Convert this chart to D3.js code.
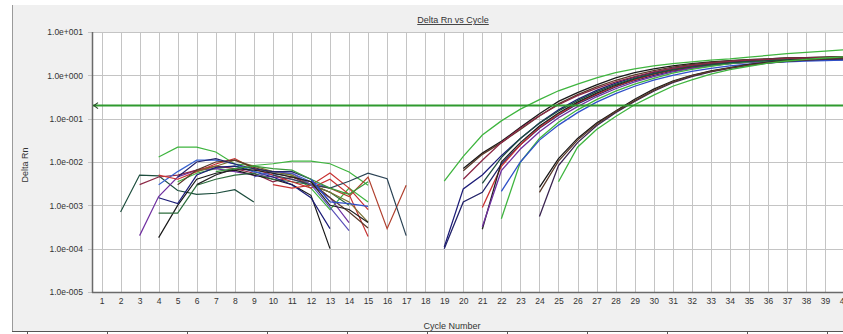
<!DOCTYPE html>
<html>
<head>
<meta charset="utf-8">
<script src="https://cdn.jsdelivr.net/npm/d3@7"></script>
<style>
  body { margin: 0; background: #fff; overflow: hidden; }
  text { font-family: "Liberation Sans", Arial, sans-serif; fill: #333; }
</style>
</head>
<body>
<div id="chart"></div>
<script>
// Data
//

var cycleTicks = [1, 2, 3, 4, 5, 6, 7, 8, 9, 10, 11, 12, 13, 14, 15, 16, 17, 18, 19, 20,
                  21, 22, 23, 24, 25, 26, 27, 28, 29, 30, 31, 32, 33, 34, 35, 36, 37, 38, 39, 40];
var rnTicks = [1e1, 1e0, 1e-1, 1e-2, 1e-3, 1e-4, 1e-5];
var rnTickLabels = ["1.0e+001", "1.0e+000", "1.0e-001", "1.0e-002", "1.0e-003", "1.0e-004", "1.0e-005"];
var threshold = 0.2;

// amplification curves: first cycle plotted, then one Delta Rn per cycle
var ampStart = [19, 20, 20, 19, 19, 21, 21, 21, 22, 22, 21, 20, 24, 24, 24, 25];
var ampValues = [
  [3.6e-3, 1.35e-2, 4.2e-2, 8.9e-2, 0.166, 0.275, 0.44, 0.63, 0.87, 1.15, 1.41, 1.66, 1.86, 2.04, 2.24, 2.4, 2.63, 2.88, 3.16, 3.39, 3.63, 3.89],
  [7.1e-3, 1.6e-2, 3.0e-2, 6.3e-2, 0.13, 0.25, 0.40, 0.60, 0.87, 1.15, 1.41, 1.66, 1.86, 2.04, 2.19, 2.29, 2.40, 2.51, 2.57, 2.63, 2.69],
  [6.3e-3, 1.5e-2, 2.8e-2, 5.6e-2, 0.115, 0.22, 0.36, 0.54, 0.77, 1.02, 1.29, 1.55, 1.78, 1.98, 2.14, 2.29, 2.40, 2.51, 2.57, 2.63, 2.69],
  [1.1e-4, 2.4e-3, 5.0e-3, 1.4e-2, 3.5e-2, 7.9e-2, 0.16, 0.28, 0.45, 0.66, 0.91, 1.17, 1.45, 1.66, 1.86, 2.04, 2.19, 2.29, 2.40, 2.45, 2.51, 2.57],
  [1.0e-4, 1.2e-3, 2.0e-3, 8.9e-3, 2.5e-2, 6.0e-2, 0.12, 0.22, 0.35, 0.54, 0.76, 1.0, 1.26, 1.48, 1.70, 1.86, 2.0, 2.09, 2.19, 2.24, 2.29, 2.29],
  [8.9e-4, 7.9e-3, 2.5e-2, 6.3e-2, 0.126, 0.23, 0.37, 0.56, 0.79, 1.05, 1.32, 1.55, 1.78, 1.95, 2.09, 2.24, 2.34, 2.40, 2.45, 2.51],
  [2.8e-4, 1.0e-2, 2.8e-2, 6.8e-2, 0.135, 0.24, 0.39, 0.59, 0.83, 1.10, 1.35, 1.58, 1.82, 2.0, 2.14, 2.29, 2.40, 2.51, 2.57, 2.63],
  [3.2e-4, 6.3e-3, 2.0e-2, 5.0e-2, 0.105, 0.19, 0.32, 0.49, 0.71, 0.93, 1.20, 1.45, 1.66, 1.86, 2.0, 2.14, 2.24, 2.29, 2.34, 2.40],
  [4.9e-4, 1.0e-2, 3.5e-2, 8.3e-2, 0.16, 0.275, 0.43, 0.63, 0.85, 1.12, 1.38, 1.62, 1.86, 2.04, 2.19, 2.29, 2.40, 2.45, 2.51],
  [2.1e-3, 1.0e-2, 3.2e-2, 7.1e-2, 0.138, 0.24, 0.38, 0.56, 0.78, 1.0, 1.23, 1.45, 1.66, 1.82, 1.95, 2.04, 2.14, 2.19, 2.24],
  [3.2e-3, 1.26e-2, 3.5e-2, 7.9e-2, 0.15, 0.26, 0.42, 0.62, 0.85, 1.10, 1.35, 1.58, 1.78, 1.95, 2.09, 2.19, 2.29, 2.34, 2.40, 2.45],
  [4.0e-3, 1.1e-2, 2.8e-2, 6.0e-2, 0.117, 0.21, 0.34, 0.50, 0.71, 0.93, 1.20, 1.45, 1.70, 1.91, 2.09, 2.24, 2.34, 2.45, 2.51, 2.57, 2.63],
  [2.6e-3, 1.2e-2, 3.5e-2, 7.9e-2, 0.15, 0.28, 0.48, 0.74, 1.0, 1.26, 1.51, 1.78, 2.0, 2.19, 2.34, 2.45, 2.57],
  [5.5e-4, 8.3e-3, 2.8e-2, 6.9e-2, 0.138, 0.25, 0.43, 0.68, 0.93, 1.20, 1.45, 1.70, 1.91, 2.09, 2.24, 2.34, 2.45],
  [2.0e-3, 1.05e-2, 3.2e-2, 7.4e-2, 0.145, 0.26, 0.45, 0.71, 0.98, 1.23, 1.48, 1.74, 1.95, 2.14, 2.29, 2.40, 2.51],
  [3.5e-3, 2.2e-2, 5.6e-2, 0.112, 0.21, 0.35, 0.56, 0.79, 1.07, 1.35, 1.62, 1.91, 2.14, 2.34, 2.51, 2.69]
];

// baseline noise in the early cycles
var baseStart = [4, 5, 2, 3, 3, 4, 4, 4, 4, 4, 10, 12, 10, 6, 5, 9, 5, 6, 7, 12];
var baseValues = [
  [1.3e-2, 2.2e-2, 2.2e-2, 1.7e-2, 9.0e-3, 8.3e-3, 9.1e-3, 1.05e-2, 1.05e-2, 9.1e-3, 5.9e-3, 2.9e-3],
  [3.5e-3, 5.5e-3, 7.0e-3, 8.0e-3, 7.0e-3, 6.0e-3, 5.0e-3, 2.5e-3, 8.0e-4, 2.5e-3, 1.2e-3],
  [7.0e-4, 5.0e-3, 4.8e-3, 2.2e-3, 1.8e-3, 1.9e-3, 2.3e-3, 1.2e-3],
  [2.0e-4, 1.6e-3, 4.5e-3, 6.5e-3, 7.0e-3, 6.0e-3, 5.0e-3, 4.5e-3, 4.0e-3, 3.0e-3, 1.5e-3, 4.0e-4],
  [3.0e-3, 4.5e-3, 5.0e-3, 6.5e-3, 8.0e-3, 7.0e-3, 5.5e-3, 3.5e-3, 4.5e-3, 3.0e-3, 2.0e-3],
  [1.8e-4, 1.0e-3, 4.0e-3, 5.5e-3, 6.5e-3, 5.0e-3, 4.0e-3, 3.0e-3, 1.7e-3, 1.0e-4],
  [6.6e-4, 6.6e-4, 2.9e-3, 4.0e-3, 5.0e-3, 5.5e-3, 4.0e-3, 3.5e-3, 3.0e-3, 2.0e-3, 1.0e-3],
  [1.5e-3, 1.1e-3, 5.0e-3, 7.5e-3, 8.0e-3, 6.0e-3, 4.5e-3, 3.0e-3, 1.5e-3, 2.9e-4],
  [3.0e-3, 6.0e-3, 1.1e-2, 1.1e-2, 9.0e-3, 6.0e-3, 5.0e-3, 5.5e-3, 3.5e-3, 2.5e-3],
  [5.0e-3, 4.0e-3, 6.0e-3, 9.0e-3, 1.2e-2, 7.0e-3, 5.0e-3, 3.5e-3, 2.5e-3, 4.0e-3, 1.8e-3, 1.9e-4],
  [3.0e-3, 2.5e-3, 2.9e-3, 5.6e-3, 2.5e-3, 8.0e-4],
  [3.0e-3, 2.5e-3, 1.6e-3, 4.5e-3, 2.9e-4, 2.9e-3],
  [5.0e-3, 4.0e-3, 3.0e-3, 2.5e-3, 3.6e-3, 5.5e-3, 4.1e-3, 2.0e-4],
  [6.0e-3, 8.0e-3, 1.1e-2, 8.0e-3, 6.0e-3, 5.0e-3, 3.0e-3, 2.0e-3, 1.2e-3, 4.1e-4],
  [3.0e-3, 6.5e-3, 1.0e-2, 1.1e-2, 7.5e-3, 5.5e-3, 4.5e-3, 3.5e-3, 1.5e-3, 7.0e-4, 3.0e-4],
  [4.5e-3, 6.0e-3, 5.5e-3, 3.0e-3, 9.0e-4, 2.6e-4],
  [4.5e-3, 1.0e-2, 1.2e-2, 9.0e-3, 7.0e-3, 6.0e-3, 6.0e-3, 4.0e-3, 1.2e-3],
  [3.0e-3, 5.0e-3, 7.0e-3, 6.5e-3, 5.5e-3, 4.5e-3, 3.5e-3, 1.0e-3, 8.0e-4, 4.0e-4],
  [6.0e-3, 7.0e-3, 8.0e-3, 7.0e-3, 6.5e-3, 4.0e-3, 2.5e-3, 1.8e-3, 3.5e-3],
  [4.0e-3, 1.2e-3, 1.1e-3, 9.5e-4]
];

// Styles
//

var ampColors = ["#3fb53f", "#1a1a1a", "#5a3a2a", "#1c1c78", "#23236a", "#c83232", "#222222",
                 "#7030a0", "#3fb53f", "#3050c8", "#1e4e3e", "#8c2846", "#1a1a1a", "#3a2450",
                 "#5a3a2a", "#3fb53f"];
var baseColors = ["#3fb53f", "#3fb53f", "#1e4e3e", "#7030a0", "#8c2846", "#1a1a1a", "#2e6e3e",
                  "#1c1c78", "#3a64d0", "#c83232", "#c83232", "#b0402e", "#2c4456", "#7a7030",
                  "#5a3a2a", "#5a50b8", "#23236a", "#222222", "#3a9a3a", "#3050c8"];

var W = 843, H = 334;
var plot = { left: 92, top: 32, bottom: 292, right: 853.6 };

function toPoints(start, values) {
  // [[cycle, value], ...] for one well
  return values.map(function(v, i) { return [start + i, v]; });
}

var svg = d3.select("#chart").append("svg")
  .attr("width", W)
  .attr("height", H);

// panel background
svg.append("rect")
  .attr("x", 12).attr("y", 5)
  .attr("width", W - 12).attr("height", 326)
  .attr("fill", "#f0f0f0");
svg.append("line")
  .attr("x1", 12.5).attr("x2", 12.5).attr("y1", 5).attr("y2", 331)
  .attr("stroke", "#9a9a9a");
svg.append("line")
  .attr("x1", 12).attr("x2", W).attr("y1", 331.5).attr("y2", 331.5)
  .attr("stroke", "#555");
[27, 107, 187, 267, 347, 427, 507, 587, 667, 747, 827].forEach(function(tx) {
  svg.append("line")
    .attr("x1", tx + 0.5).attr("x2", tx + 0.5).attr("y1", 331).attr("y2", 334)
    .attr("stroke", "#555");
});

var x = d3.scaleLinear()
  .domain([0.5, 40.5])
  .range([plot.left, plot.right]);

var y = d3.scaleLog()
  .domain([1e-5, 1e1])
  .range([plot.bottom, plot.top]);

svg.append("rect")
  .attr("x", plot.left).attr("y", plot.top)
  .attr("width", plot.right - plot.left).attr("height", plot.bottom - plot.top)
  .attr("fill", "#fff");

// grid
var grid = svg.append("g").attr("stroke", "#c4c4c4").attr("stroke-width", 1);
grid.selectAll("line.v")
  .data(cycleTicks)
  .enter().append("line")
  .attr("x1", function(d) { return Math.round(x(d)) + 0.5; })
  .attr("x2", function(d) { return Math.round(x(d)) + 0.5; })
  .attr("y1", plot.top).attr("y2", plot.bottom);
grid.selectAll("line.h")
  .data(rnTicks)
  .enter().append("line")
  .attr("x1", plot.left - 4).attr("x2", plot.right)
  .attr("y1", function(d) { return Math.round(y(d)) + 0.5; })
  .attr("y2", function(d) { return Math.round(y(d)) + 0.5; });

// axes
var yAxis = d3.axisLeft(y)
  .tickValues(rnTicks)
  .tickSize(0)
  .tickPadding(9)
  .tickFormat(function(d, i) { return rnTickLabels[i]; });
var yg = svg.append("g")
  .attr("transform", "translate(" + plot.left + ",0)")
  .call(yAxis);
yg.select(".domain").remove();
yg.selectAll("text").style("font-size", "8.5px");

var xAxis = d3.axisBottom(x)
  .tickValues(cycleTicks)
  .tickSize(0)
  .tickPadding(6);
var xg = svg.append("g")
  .attr("transform", "translate(0," + plot.bottom + ")")
  .call(xAxis);
xg.select(".domain").remove();
xg.selectAll("text").style("font-size", "8.5px");

svg.append("line")
  .attr("x1", plot.left + 0.5).attr("x2", plot.left + 0.5)
  .attr("y1", plot.top).attr("y2", plot.bottom + 1)
  .attr("stroke", "#6a6a6a").attr("stroke-width", 1.5);
svg.append("line")
  .attr("x1", plot.left).attr("x2", W)
  .attr("y1", plot.bottom + 0.5).attr("y2", plot.bottom + 0.5)
  .attr("stroke", "#6a6a6a").attr("stroke-width", 1.5);

// curves
svg.append("clipPath").attr("id", "clip")
  .append("rect")
  .attr("x", plot.left + 1).attr("y", plot.top)
  .attr("width", plot.right - plot.left).attr("height", plot.bottom - plot.top);

var line = d3.line()
  .x(function(d) { return x(d[0]); })
  .y(function(d) { return y(d[1]); });

var curves = svg.append("g").attr("clip-path", "url(#clip)").attr("fill", "none");

baseValues.forEach(function(vals, i) {
  curves.append("path")
    .attr("d", line(toPoints(baseStart[i], vals)))
    .attr("stroke", baseColors[i])
    .attr("stroke-width", 1.2);
});
ampValues.forEach(function(vals, i) {
  curves.append("path")
    .attr("d", line(toPoints(ampStart[i], vals)))
    .attr("stroke", ampColors[i])
    .attr("stroke-width", 1.3);
});

// threshold with its drag arrow
var ty = y(threshold);
curves.append("line")
  .attr("x1", plot.left).attr("x2", plot.right)
  .attr("y1", ty).attr("y2", ty)
  .attr("stroke", "#2f9a2f").attr("stroke-width", 2);
svg.append("path")
  .attr("d", "M" + (plot.left + 6) + "," + (ty - 3) + " L" + (plot.left + 2) + "," + ty +
             " L" + (plot.left + 6) + "," + (ty + 3))
  .attr("fill", "none").attr("stroke", "#2a4a2a").attr("stroke-width", 1.2);

// titles
var title = svg.append("text")
  .attr("x", 453).attr("y", 23)
  .attr("text-anchor", "middle")
  .style("font-size", "9px")
  .style("text-decoration", "underline")
  .text("Delta Rn vs Cycle");

svg.append("text")
  .attr("x", 452).attr("y", 329)
  .attr("text-anchor", "middle")
  .style("font-size", "9px")
  .text("Cycle Number");

svg.append("text")
  .attr("transform", "translate(28,165) rotate(-90)")
  .attr("text-anchor", "middle")
  .style("font-size", "9px")
  .text("Delta Rn");
</script>
</body>
</html>
